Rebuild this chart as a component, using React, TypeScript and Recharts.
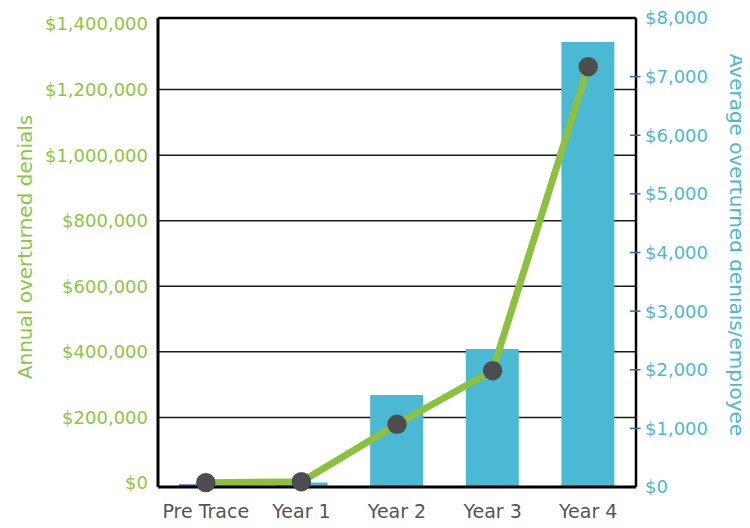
import React from 'react';
import {
  ComposedChart,
  Bar,
  Line,
  XAxis,
  YAxis,
  CartesianGrid,
  Cell,
  ReferenceLine,
} from 'recharts';

// ---- data ----
const categories = ['Pre Trace', 'Year 1', 'Year 2', 'Year 3', 'Year 4'];
const annualOverturned = [1000, 4000, 179000, 342500, 1269700];
const avgPerEmployee = [45, 75, 1570, 2355, 7590];
const leftTicks = [0, 200000, 400000, 600000, 800000, 1000000, 1200000, 1400000];
const rightTicks = [0, 1000, 2000, 3000, 4000, 5000, 6000, 7000, 8000];
const gridValues = [200000, 400000, 600000, 800000, 1000000, 1200000];
const leftDomain = [-12200, 1418300];
const rightDomain = [0, 8000];

const leftTitle = 'Annual overturned denials';
const rightTitle = 'Average overturned denials/employee';

// ---- styles ----
const GREEN = '#8BC13F';
const GREEN_TEXT = '#8DC63F';
const BLUE = '#4BB8D4';
const BAR_COLORS = ['#3B7DC4', BLUE, BLUE, BLUE, BLUE];
const DOT = '#4D4D4F';
const FONT = '"DejaVu Sans", sans-serif';

const data = categories.map((name, i) => ({
  name,
  annual: annualOverturned[i],
  perEmployee: avgPerEmployee[i],
}));

const money = (v: number) => '$' + v.toLocaleString('en-US');

const RightTick = (props: any) => {
  const { x, y, payload } = props;
  const v = payload.value;
  const axisX = x - 9;
  const showMark = v !== rightTicks[0] && v !== rightTicks[rightTicks.length - 1];
  return (
    <g>
      {showMark && (
        <line x1={axisX - 6} x2={axisX + 4.5} y1={y} y2={y} stroke="#2E6DA4" strokeWidth={1.5} />
      )}
      <text
        x={x}
        y={y}
        dy="0.355em"
        textAnchor="start"
        fill={BLUE}
        fontSize={18}
        fontFamily={FONT}
      >
        {money(v)}
      </text>
    </g>
  );
};

export default function App() {
  return (
    <div style={{ width: 742, height: 520 }}>
      <ComposedChart
        width={742}
        height={520}
        data={data}
        margin={{ top: 10, right: 0, bottom: 0, left: 0 }}
        barSize={53}
      >
        <CartesianGrid
          yAxisId="left"
          vertical={false}
          horizontalValues={gridValues}
          stroke="#1a1a1a"
          strokeWidth={1.5}
        />
        <Bar
          yAxisId="right"
          dataKey="perEmployee"
          isAnimationActive={false}
        >
          {data.map((d, i) => (
            <Cell key={d.name} fill={BAR_COLORS[i]} />
          ))}
        </Bar>
        <ReferenceLine
          yAxisId="left"
          y={leftDomain[1]}
          stroke="#000"
          strokeWidth={2.5}
        />
        <XAxis
          dataKey="name"
          tickLine={false}
          tickSize={0}
          tickMargin={18}
          height={41}
          axisLine={{ stroke: '#000', strokeWidth: 3 }}
          tick={{ fill: '#555', fontSize: 19, fontFamily: FONT }}
          interval={0}
        />
        <YAxis
          yAxisId="left"
          orientation="left"
          width={150}
          domain={leftDomain}
          ticks={leftTicks}
          interval={0}
          tickFormatter={money}
          tickLine={false}
          tickSize={0}
          tickMargin={10}
          axisLine={{ stroke: '#000', strokeWidth: 3 }}
          tick={{ fill: GREEN_TEXT, fontSize: 18, fontFamily: FONT }}
          label={{
            value: leftTitle,
            angle: -90,
            position: 'insideLeft',
            offset: 17,
            dy: -5.5,
            fill: GREEN_TEXT,
            fontSize: 20,
            fontFamily: FONT,
            style: { textAnchor: 'middle' },
          }}
        />
        <YAxis
          yAxisId="right"
          orientation="right"
          width={114}
          domain={rightDomain}
          ticks={rightTicks}
          interval={0}
          tickLine={false}
          tickSize={0}
          tickMargin={9}
          axisLine={{ stroke: '#000', strokeWidth: 2.5 }}
          tick={<RightTick />}
          label={{
            value: rightTitle,
            angle: 90,
            position: 'insideRight',
            offset: 13,
            dy: -7.5,
            fill: BLUE,
            fontSize: 20,
            fontFamily: FONT,
            style: { textAnchor: 'middle' },
          }}
        />
        <Line
          yAxisId="left"
          type="linear"
          dataKey="annual"
          stroke={GREEN}
          strokeWidth={7}
          dot={{ r: 9.7, fill: DOT, stroke: DOT, strokeWidth: 0 }}
          activeDot={false}
          isAnimationActive={false}
        />
      </ComposedChart>
    </div>
  );
}
